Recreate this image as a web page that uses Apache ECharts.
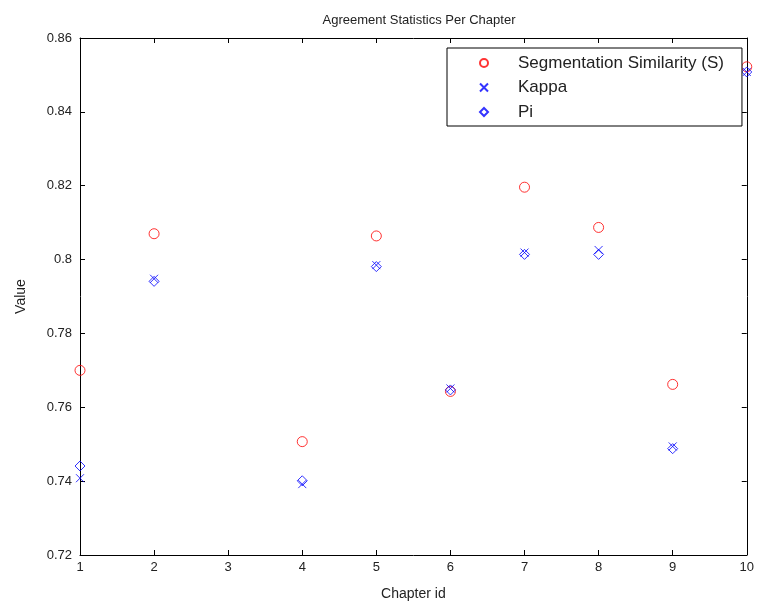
<!DOCTYPE html>
<html>
<head>
<meta charset="utf-8">
<script src="https://cdn.jsdelivr.net/npm/echarts@6/dist/echarts.min.js"></script>
<style>
  html, body { margin: 0; padding: 0; background: #fff; }
  #main { width: 757px; height: 606px; }
</style>
</head>
<body>
<div id="main"></div>
<script>
// chapter ids
var chapters = [1, 2, 4, 5, 6, 7, 8, 9, 10];
// Segmentation Similarity (S)
var sValues = [0.770, 0.807, 0.7507, 0.8064, 0.7643, 0.8196, 0.8087, 0.7662, 0.8522];
// Kappa
var kappaValues = [0.7408, 0.7948, 0.7392, 0.7985, 0.7651, 0.8019, 0.8026, 0.7494, 0.8508];
// Pi
var piValues = [0.7441, 0.7941, 0.7401, 0.7981, 0.7647, 0.8014, 0.8014, 0.7488, 0.8508];
var xTicks = [1, 2, 3, 4, 5, 6, 7, 8, 9, 10];
var yTicks = [0.72, 0.74, 0.76, 0.78, 0.8, 0.82, 0.84, 0.86];

var seriesNames = ['Segmentation Similarity (S)', 'Kappa', 'Pi'];
var FONT = 'Liberation Sans, Arial, sans-serif';
var crossPath = 'path://M0,0L10,10M10,0L0,10';
var diamondPath = 'path://M5,0L10,5L5,10L0,5Z';

function pairs(vals) {
    return chapters.map(function (c, i) { return [c, vals[i]]; });
}

var chart = echarts.init(document.getElementById('main'));

//坐标轴公共设置
function axisBase(show) {
    return {
        axisLine: { show: true, lineStyle: { color: '#000', width: 1 } },
        axisTick: { show: true, inside: true, length: 5, lineStyle: { color: '#000' } },
        splitLine: { show: false },
        axisLabel: { show: show, color: '#222', fontFamily: FONT, fontSize: 13 }
    };
}

var xBottom = Object.assign(axisBase(true), {
    type: 'value', min: xTicks[0], max: xTicks[xTicks.length - 1], interval: 1, position: 'bottom',
    name: 'Chapter id', nameLocation: 'middle', nameGap: 32,
    nameTextStyle: { color: '#222', fontFamily: FONT, fontSize: 14 }
});
xBottom.axisLabel.margin = 6;
var xTop = Object.assign(axisBase(false), {
    type: 'value', min: xTicks[0], max: xTicks[xTicks.length - 1], interval: 1, position: 'top'
});
var yLeft = Object.assign(axisBase(true), {
    type: 'value', min: yTicks[0], max: yTicks[yTicks.length - 1], interval: 0.02, position: 'left',
    name: 'Value', nameLocation: 'middle', nameGap: 52, nameRotate: 90,
    nameTextStyle: { color: '#222', fontFamily: FONT, fontSize: 14 }
});
yLeft.axisLabel.margin = 8;
yLeft.axisLabel.formatter = function (v) { return String(Math.round(v * 100) / 100); };
var yRight = Object.assign(axisBase(false), {
    type: 'value', min: yTicks[0], max: yTicks[yTicks.length - 1], interval: 0.02, position: 'right'
});

var option = {
    animation: false,
    backgroundColor: '#fff',
    title: {
        text: 'Agreement Statistics Per Chapter',
        left: 414, top: 9, textAlign: 'center',
        textStyle: { color: '#222', fontFamily: FONT, fontSize: 13, fontWeight: 'normal' }
    },
    grid: { left: 80, right: 9, top: 38, bottom: 49 },
    legend: {
        orient: 'vertical',
        left: 447, top: 48,
        padding: [6, 18, 5, 32],
        itemWidth: 8, itemHeight: 8, itemGap: 6.5,
        backgroundColor: '#fff',
        borderColor: '#000', borderWidth: 1,
        textStyle: { color: '#222', fontFamily: FONT, fontSize: 17, lineHeight: 18, padding: [0, 0, 0, 25] },
        data: seriesNames
    },
    xAxis: [xBottom, xTop],
    yAxis: [yLeft, yRight],
    series: [
        {
            name: seriesNames[0], type: 'scatter', data: pairs(sValues),
            symbol: 'circle', symbolSize: 10,
            itemStyle: { color: 'rgba(255,255,255,0)', borderColor: '#ff0000', borderWidth: 1 }
        },
        {
            name: seriesNames[1], type: 'scatter', data: pairs(kappaValues),
            symbol: crossPath, symbolSize: 8, symbolKeepAspect: true,
            itemStyle: { color: 'rgba(255,255,255,0)', borderColor: '#0000ff', borderWidth: 1 }
        },
        {
            name: seriesNames[2], type: 'scatter', data: pairs(piValues),
            symbol: diamondPath, symbolSize: 10, symbolKeepAspect: true,
            itemStyle: { color: 'rgba(255,255,255,0)', borderColor: '#0000ff', borderWidth: 1 }
        }
    ]
};

chart.setOption(option);
</script>
</body>
</html>
